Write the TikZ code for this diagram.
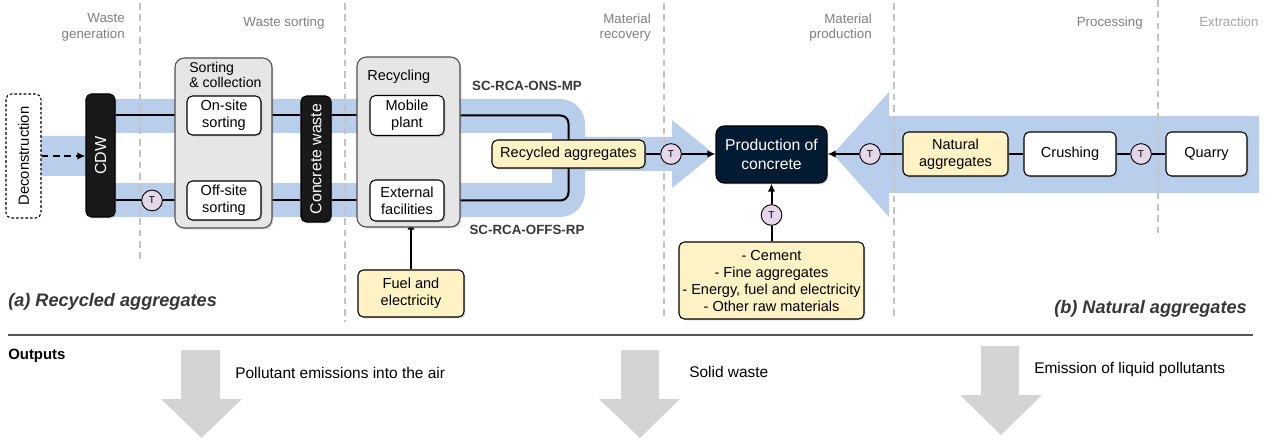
\documentclass[tikz,border=0pt]{standalone}
\usepackage{fontspec}
\setmainfont{Liberation Sans}
\usetikzlibrary{arrows.meta,shadows}
\definecolor{bandblue}{RGB}{184,206,235}
\definecolor{boxgray}{RGB}{230,230,230}
\definecolor{boxedge}{RGB}{80,80,80}
\definecolor{yel}{RGB}{255,242,196}
\definecolor{tpurp}{RGB}{229,214,234}
\definecolor{navy}{RGB}{2,26,50}
\definecolor{hdr}{RGB}{128,128,128}
\definecolor{hdrlight}{RGB}{166,166,166}
\definecolor{dashgray}{RGB}{195,195,195}
\definecolor{outgray}{RGB}{212,212,212}
\definecolor{sepgray}{RGB}{85,85,85}
\definecolor{darktxt}{RGB}{55,55,55}
\pgfdeclarelayer{bg}
\pgfdeclarelayer{lines}
\pgfsetlayers{bg,lines,main}
\tikzset{
  body/.style={font=\fontsize{10.9}{12.8}\selectfont},
  base/.style={rounded corners=4pt, inner sep=0pt, align=center, body, line width=0.8pt},
  shad/.style={drop shadow={shadow xshift=1.1pt, shadow yshift=-1.1pt, opacity=0.3}},
  wbox/.style={base, draw=black, fill=white, shad},
  ybox/.style={base, draw=black, fill=yel, shad},
  gbox/.style={base, rounded corners=7pt, draw=boxedge, fill=boxgray, shad},
  kbox/.style={base, draw=black, fill=black!90, shad},
  dbox/.style={base, draw=black, fill=white, dash pattern=on 2pt off 1.5pt},
  nbox/.style={base, rounded corners=6pt, draw=black, fill=navy, text=white, shad, font=\fontsize{11.8}{14.5}\selectfont},
  tc/.style={circle, draw=black, fill=tpurp, line width=0.7pt, minimum size=15.5pt, inner sep=0pt, font=\fontsize{7.5}{9}\selectfont},
  hdrtxt/.style={text=hdr, font=\fontsize{10}{11.3}\selectfont, inner sep=0pt},
  ln/.style={line width=1.5pt, black},
  arr/.style={ln, -{Latex[length=6pt,width=5.5pt]}},
  vdash/.style={dashgray, line width=1.5pt, dash pattern=on 5pt off 3.5pt},
}
\begin{document}
\begin{tikzpicture}[x=0.75pt, y=-0.75pt]
\useasboundingbox (0,0) rectangle (1273,441);

% ---------- nodes ----------
\node[dbox, minimum width=26.25pt, minimum height=93pt] (decon) at (23.5,156) {};
\node[rotate=90, body, font=\fontsize{11.1}{13}\selectfont] at (decon.center) {Deconstruction};

\node[kbox, minimum width=21.75pt, minimum height=92.25pt] (cdw) at (100.5,155.5) {};
\node[rotate=90, text=white, font=\fontsize{12}{14}\selectfont] at (cdw.center) {CDW};

\node[gbox, minimum width=72.75pt, minimum height=127.5pt] (sortc) at (223.5,143) {};
\node[anchor=north west, align=left, inner sep=0pt, font=\fontsize{10.6}{11.3}\selectfont] at (189,62) {Sorting\\\& collection};
\node[wbox, minimum width=55.5pt, minimum height=29.25pt] (onsite) at (224,115.5) {On-site\\sorting};
\node[wbox, minimum width=55.5pt, minimum height=29.25pt] (offsite) at (224,200.5) {Off-site\\sorting};

\node[kbox, minimum width=22.5pt, minimum height=94.5pt] (cwaste) at (316,159) {};
\node[rotate=90, text=white, font=\fontsize{11.9}{14}\selectfont] at (cwaste.center) {Concrete waste};

\node[gbox, minimum width=77.25pt, minimum height=127.5pt] (recyc) at (408.5,142) {};
\node[anchor=north west, inner sep=0pt, body] at (367,69.5) {Recycling};
\node[wbox, minimum width=55.5pt, minimum height=30pt] (mobile) at (407,115.5) {Mobile\\plant};
\node[wbox, minimum width=55.5pt, minimum height=30.75pt] (extfac) at (407,200.5) {External\\facilities};

\node[ybox, minimum width=114.75pt, minimum height=21pt] (recagg) at (568.5,154) {Recycled aggregates};
\node[nbox, minimum width=83.25pt, minimum height=42.75pt] (prod) at (771.5,154.5) {Production of\\concrete};
\node[ybox, minimum width=78.75pt, minimum height=33pt] (natagg) at (955.5,154) {Natural\\aggregates};
\node[wbox, minimum width=69pt, minimum height=33pt] (crush) at (1070,154) {Crushing};
\node[wbox, minimum width=60.75pt, minimum height=33pt] (quarry) at (1206.5,154) {Quarry};

\node[ybox, minimum width=79.5pt, minimum height=35.25pt] (fuel) at (411,293.5) {Fuel and\\electricity};
\node[ybox, minimum width=138.75pt, minimum height=57.75pt, font=\fontsize{10.9}{12.75}\selectfont] (mats) at (771.5,280.5)
  {- Cement\\- Fine aggregates\\- Energy, fuel and electricity\\- Other raw materials};

\node[tc] (t1) at (152,200.5) {T};
\node[tc] (t2) at (671,154) {T};
\node[tc] (t3) at (870,154) {T};
\node[tc] (t4) at (1141,154) {T};
\node[tc] (t5) at (771.5,215) {T};

% ---------- headers ----------
\node[hdrtxt, anchor=north east, align=right] (h1) at (125,13.5) {Waste\\generation};
\node[hdrtxt, anchor=base] (h2) at (284,26.5) {Waste sorting};
\node[hdrtxt, anchor=north east, align=right] (h3) at (651,13.5) {Material\\recovery};
\node[hdrtxt, anchor=north east, align=right] (h4) at (872,13.5) {Material\\production};
\node[hdrtxt, anchor=base east] (h5) at (1143,26.5) {Processing};
\node[hdrtxt, anchor=base west, text=hdrlight] (h6) at (1199,26.5) {Extraction};

% ---------- labels ----------
\node[anchor=base, inner sep=0pt, text=darktxt, font=\fontsize{10}{12}\bfseries] (l1) at (527,90.5) {SC-RCA-ONS-MP};
\node[anchor=base, inner sep=0pt, text=darktxt, font=\fontsize{10}{12}\bfseries] (l2) at (527,234.5) {SC-RCA-OFFS-RP};
\node[anchor=base west, inner sep=0pt, text=darktxt, font=\fontsize{13.6}{16}\bfseries\itshape] (la) at (8,306.5) {(a) Recycled aggregates};
\node[anchor=base east, inner sep=0pt, text=darktxt, font=\fontsize{13.6}{16}\bfseries\itshape] (lb) at (1247,313.5) {(b) Natural aggregates};
\node[anchor=base west, inner sep=0pt, font=\fontsize{11.2}{13}\bfseries] (lo) at (8,359.5) {Outputs};
\node[anchor=base west, inner sep=0pt, font=\fontsize{11.6}{13}\selectfont] (o1) at (235,378.5) {Pollutant emissions into the air};
\node[anchor=base west, inner sep=0pt, font=\fontsize{11.6}{13}\selectfont] (o2) at (689,377.5) {Solid waste};
\node[anchor=base west, inner sep=0pt, font=\fontsize{11.6}{13}\selectfont] (o3) at (1034,373.5) {Emission of liquid pollutants};

% ---------- background bands ----------
\begin{pgfonlayer}{bg}
\fill[white] (0,0) rectangle (1273,441);
\fill[bandblue] (41,136) rectangle (86,176);
\fill[bandblue] (100,99) -- (560,99) .. controls (573.8,99) and (585,110.2) .. (585,124)
  -- (585,192) .. controls (585,205.8) and (573.8,217) .. (560,217) -- (100,217) -- cycle;
\fill[white] (100,133) rectangle (552,183);
\fill[bandblue] (552,137) -- (672,137) -- (672,120) -- (714,154) -- (672,188) -- (672,171) -- (552,171) -- cycle;
\fill[bandblue] (1259,116) -- (889,116) -- (889,92) -- (833,154) -- (889,217) -- (889,193) -- (1259,193) -- cycle;
\draw[vdash] (140,3) -- (140,262);
\draw[vdash] (345,3) -- (345,322);
\draw[vdash] (664,3) -- (664,320);
\draw[vdash] (894,3) -- (894,320);
\draw[vdash] (1158,0) -- (1158,237);
% outputs
\draw[sepgray, line width=1.5pt] (8,335) -- (1253,335);
\fill[outgray] (181,350) -- (220,350) -- (220,399) -- (242,399) -- (201.5,438) -- (161,399) -- (181,399) -- cycle;
\fill[outgray] (621,350) -- (659,350) -- (659,399) -- (680,399) -- (640,438) -- (599,399) -- (621,399) -- cycle;
\fill[outgray] (981,346) -- (1019,346) -- (1019,395) -- (1042,395) -- (1001,435) -- (960,395) -- (981,395) -- cycle;
\end{pgfonlayer}

% ---------- connectors ----------
\begin{pgfonlayer}{lines}
\draw[arr, dash pattern=on 5pt off 3.5pt] (decon.east) -- (decon.east -| cdw.west);
\draw[ln] (cdw.east |- onsite.west) -- (onsite.west);
\draw[ln] (onsite.east) -- (cwaste.west |- onsite.east);
\draw[ln] (cwaste.east |- onsite.east) -- (mobile.west);
\draw[ln] (cdw.east |- t1) -- (t1);
\draw[ln] (t1) -- (offsite.west);
\draw[ln] (offsite.east) -- (cwaste.west |- offsite.east);
\draw[ln] (cwaste.east |- offsite.east) -- (extfac.west);
\draw[ln, rounded corners=6pt] (mobile.east) -- (mobile.east -| recagg.center) -- (extfac.east -| recagg.center) -- (extfac.east);
\draw[ln] (recagg.east) -- (t2);
\draw[arr] (t2) -- (prod.west |- t2);
\draw[ln] (natagg.west) -- (t3);
\draw[arr] (t3) -- (prod.east |- t3);
\draw[ln] (natagg.east) -- (crush.west);
\draw[ln] (crush.east) -- (t4);
\draw[ln] (t4) -- (quarry.west |- t4);
\draw[ln] (mats.north) -- (t5);
\draw[arr] (t5) -- (prod.south);
\draw[arr] (fuel.north) -- (fuel.north |- extfac.south);
\end{pgfonlayer}
\end{tikzpicture}
\end{document}
